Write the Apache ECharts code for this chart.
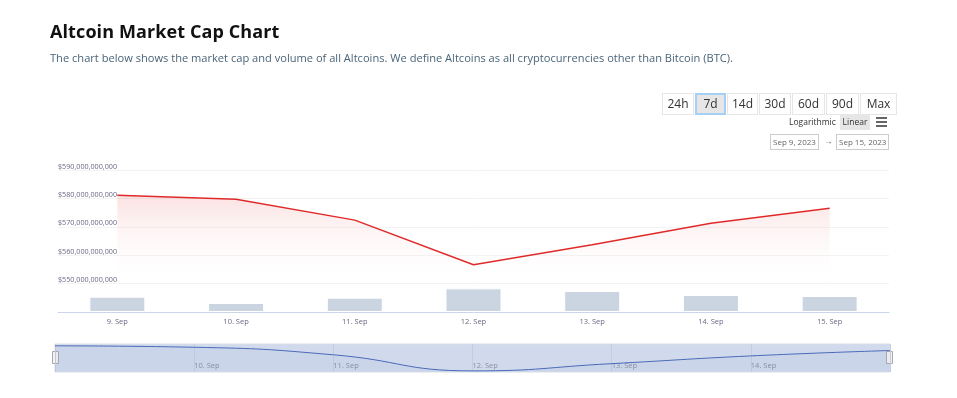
<!DOCTYPE html>
<html>
<head>
<meta charset="utf-8">
<script src="https://cdn.jsdelivr.net/npm/echarts@6/dist/echarts.min.js"></script>
<style>
  html, body { margin: 0; padding: 0; background: #fff; }
  body { width: 957px; height: 398px; position: relative; overflow: hidden; font-family: "Open Sans", sans-serif; }
  #chart { position: absolute; left: 0; top: 0; width: 957px; height: 398px; }
  .title { position: absolute; left: 50px; top: 19px; font-size: 18px; font-weight: bold; color: #111; letter-spacing: 0.1px; }
  .subtitle { position: absolute; left: 50px; top: 50px; font-size: 11.1px; color: #4a6478; }
  .ranges { position: absolute; left: 662px; top: 93px; display: flex; }
  .ranges div { box-sizing: border-box; height: 22px; line-height: 20px; border: 1px solid #e6e6e6; margin-right: 1px; text-align: center; font-size: 12px; color: #333; background: #fff; }
  .ranges div.on { background: #e6e6e6; border: 2px solid #a6cff5; line-height: 18px; }
  .scale { position: absolute; top: 114px; font-size: 8.5px; color: #333; height: 16px; line-height: 16px; }
  .datebox { position: absolute; top: 134px; height: 14px; line-height: 14px; border: 1px solid #ccc; font-size: 8px; color: #666; padding: 0 2px; }
  .burger { position: absolute; left: 876px; top: 117px; width: 11px; }
  .burger span { display: block; height: 1.5px; background: #666; margin-bottom: 2.5px; }
</style>
</head>
<body>
<div id="chart"></div>
<div class="title">Altcoin Market Cap Chart</div>
<div class="subtitle">The chart below shows the market cap and volume of all Altcoins. We define Altcoins as all cryptocurrencies other than Bitcoin (BTC).</div>
<div class="ranges">
  <div style="width:32px">24h</div><div class="on" style="width:31px">7d</div><div style="width:31px">14d</div><div style="width:32px">30d</div><div style="width:33px">60d</div><div style="width:33px">90d</div><div style="width:37px">Max</div>
</div>
<div class="scale" style="left:789px;">Logarithmic</div>
<div class="scale" style="left:840px; width:30px; text-align:center; background:#e6e6e6;">Linear</div>
<div class="burger"><span></span><span></span><span></span></div>
<div class="datebox" style="left:770px;">Sep 9, 2023</div>
<div class="scale" style="left:824px; top:133px; color:#666;">&rarr;</div>
<div class="datebox" style="left:836px;">Sep 15, 2023</div>

<script>
// dates and values (billions of USD)
const dates = ['9. Sep', '10. Sep', '11. Sep', '12. Sep', '13. Sep', '14. Sep', '15. Sep'];
const marketCap = [581.2, 579.8, 572.4, 556.6, 563.7, 571.3, 576.6];
const volume = [23.0, 13.5, 21.5, 35.5, 31.5, 25.5, 24.0];
const capTicks = [550, 560, 570, 580, 590];

const chart = echarts.init(document.getElementById('chart'));

const fmtCap = v => '$' + v + ',000,000,000';

chart.setOption({
  animation: false,
  textStyle: { fontFamily: 'Open Sans' },
  grid: [
    { left: 58, right: 68, top: 170.5, height: 112.8 },
    { left: 58, right: 68, top: 285, height: 27 },
    { left: 55, right: 67, top: 344, height: 28, show: true,
      backgroundColor: 'rgba(102,133,194,0.3)', borderColor: '#d8dde8', borderWidth: 1 }
  ],
  xAxis: [
    { type: 'category', gridIndex: 0, data: dates, boundaryGap: true, show: false },
    { type: 'category', gridIndex: 1, data: dates, boundaryGap: true,
      axisLine: { lineStyle: { color: '#ccd6eb' } },
      axisTick: { alignWithLabel: true, length: 5, lineStyle: { color: '#ccd6eb' } },
      axisLabel: { color: '#6a6a86', fontSize: 7.5, margin: 6 } },
    { type: 'value', gridIndex: 2, min: 0, max: 6, interval: 1,
      axisLine: { show: false }, axisTick: { show: false },
      splitLine: { show: true, lineStyle: { color: '#c3cde2' } },
      axisLabel: { inside: true, align: 'left', margin: 2, fontSize: 7.5, color: '#8a8fa0',
        formatter: v => (v > 0 && v < 6) ? dates[v] : '' } }
  ],
  yAxis: [
    { type: 'value', gridIndex: 0, min: capTicks[0], max: capTicks[capTicks.length - 1], interval: 10,
      axisLine: { show: false }, axisTick: { show: false },
      splitLine: { lineStyle: { color: '#f3f3f3' } },
      axisLabel: { inside: true, align: 'left', verticalAlign: 'bottom', margin: 0,
        fontSize: 7.2, color: '#6a6a86', formatter: fmtCap } },
    { type: 'value', gridIndex: 1, min: 0, max: 40.5, show: false, splitLine: { show: false } },
    { type: 'value', gridIndex: 2, min: 555.5, max: 583, show: false, splitLine: { show: false } }
  ],
  series: [
    { name: 'Market Cap', type: 'line', xAxisIndex: 0, yAxisIndex: 0, data: marketCap,
      symbol: 'none', lineStyle: { color: '#e02a2a', width: 1.5 }, itemStyle: { color: '#e02a2a' },
      areaStyle: { color: new echarts.graphic.LinearGradient(0, 0, 0, 1, [
        { offset: 0, color: 'rgba(228,60,60,0.22)' },
        { offset: 1, color: 'rgba(255,255,255,0)' }
      ]) } },
    { name: 'Volume', type: 'bar', xAxisIndex: 1, yAxisIndex: 1, data: volume, barWidth: 56,
      itemStyle: { color: '#cbd5e1', borderColor: '#fff', borderWidth: 1 } },
    { name: 'Navigator', type: 'line', xAxisIndex: 2, yAxisIndex: 2,
      data: marketCap.map((v, i) => [i, v]), smooth: true, symbol: 'none',
      lineStyle: { color: '#4a6ab8', width: 1 },
      areaStyle: { color: 'rgba(51,92,173,0.05)' } }
  ],
  graphic: [
    { type: 'rect', left: 52, top: 351, shape: { width: 6, height: 12 },
      style: { fill: '#f2f2f2', stroke: '#aaa', lineWidth: 1 } },
    { type: 'rect', left: 886, top: 351, shape: { width: 6, height: 12 },
      style: { fill: '#f2f2f2', stroke: '#aaa', lineWidth: 1 } }
  ]
});
</script>
</body>
</html>
